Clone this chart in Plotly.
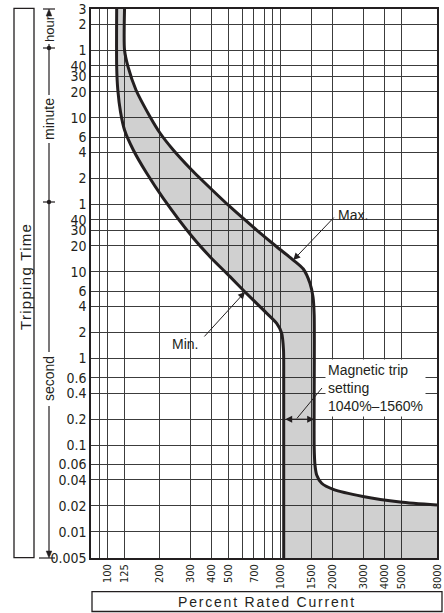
import math
import plotly.graph_objects as go

# ---------------- data ----------------
# Max. tripping curve: percent rated current vs tripping time in seconds
max_pct = [125, 125, 130.9, 145.6, 175.5, 200.4, 239.2, 305.6, 398.8, 508.8, 726, 947.3,
           1181, 1350, 1475, 1536, 1560, 1560, 1577, 1613, 1724, 2012, 2988, 4890, 8000]
max_sec = [10800, 3634, 2331, 1256, 617.8, 400.6, 255.0, 149.9, 89.3, 56.5, 30.4, 19.5,
           13.7, 10.8, 7.39, 5.13, 3.18, 0.0962, 0.0592, 0.0454, 0.0364, 0.0309, 0.0256,
           0.0221, 0.0204]

# Min. tripping curve
min_pct = [112.6, 112.6, 114.3, 118.5, 125.0, 140.5, 168.0, 209.4, 312.2, 389.9, 508.8,
           621.3, 792.6, 947.3, 1012, 1037, 1040, 1040]
min_sec = [10800, 2331, 1256, 699.8, 433.9, 255.0, 137.3, 70.7, 24.6, 14.98, 8.81,
           5.87, 3.64, 2.55, 1.96, 1.256, 0.566, 0.005]

trip_lo, trip_hi = 1040, 1560          # magnetic trip setting (%)
trip_marker_sec = 0.2                  # time where the setting arrow is drawn

x_tick_pct = [90, 100, 125, 200, 300, 400, 500, 600, 700, 800, 900, 1000,
              1500, 2000, 3000, 4000, 5000, 8000]
x_tick_text = ['', '100', '125', '200', '300', '400', '500', '', '700', '', '', '1000',
               '1500', '2000', '3000', '4000', '5000', '8000']

y_tick_sec = [0.005, 0.01, 0.02, 0.04, 0.06, 0.1, 0.2, 0.4, 0.6, 1, 2, 4, 6, 10, 20, 30, 40,
              60, 120, 240, 360, 600, 1200, 1800, 2400, 3600, 7200, 10800]
y_tick_text = ['0.005', '0.01', '0.02', '0.04', '0.06', '0.1', '0.2', '0.4', '0.6', '1', '2',
               '4', '6', '10', '20', '30', '40', '1', '2', '4', '6', '10', '20', '30', '40',
               '1', '2', '3']

X_RANGE = (80, 8000)
Y_RANGE = (0.005, 10800)

# ---------------- styling ----------------
INK = '#231f20'
GRID = '#3c3c3c'
FILL = 'rgba(35,31,32,0.21)'
SANS = 'Liberation Sans, Arial, Helvetica, sans-serif'
NARROW = 'Liberation Sans Narrow, Arial Narrow, DejaVu Sans Condensed, Liberation Sans, sans-serif'

W, H = 444, 613
ML, MR, MT, MB = 91, 7, 9, 55
PW = W - ML - MR
PH = H - MT - MB


def px(x):
    return (x - ML) / PW


def py(y):
    return (H - MB - y) / PH


# fill polygon: band between curves plus region under the max tail (extends past the axes, clipped)
YBIG, YSMALL, XBIG = Y_RANGE[1] * 3, Y_RANGE[0] / 5, X_RANGE[1] * 3
fill_x = [min_pct[0]] + min_pct + [min_pct[-1], XBIG, XBIG] + max_pct[::-1] + [max_pct[0]]
fill_y = [YBIG] + min_sec + [YSMALL, YSMALL, max_sec[-1]] + max_sec[::-1] + [YBIG]

SM = 0.7
fig = go.Figure()
fig.add_trace(go.Scatter(x=fill_x, y=fill_y, mode='lines', fill='toself', fillcolor=FILL,
                         line=dict(width=0, shape='spline', smoothing=SM),
                         hoverinfo='skip', showlegend=False))
fig.add_trace(go.Scatter(x=min_pct, y=min_sec, mode='lines', name='Min.',
                         line=dict(color=INK, width=3, shape='spline', smoothing=SM),
                         showlegend=False))
fig.add_trace(go.Scatter(x=max_pct, y=max_sec, mode='lines', name='Max.',
                         line=dict(color=INK, width=3, shape='spline', smoothing=SM),
                         showlegend=False))

shapes = []


def seg(x0, y0, x1, y1, w=1.2):
    shapes.append(dict(type='line', xref='paper', yref='paper', x0=px(x0), y0=py(y0),
                       x1=px(x1), y1=py(y1), line=dict(color=INK, width=w)))


def rect(x0, y0, x1, y1, w=1.3):
    shapes.append(dict(type='rect', xref='paper', yref='paper', x0=px(x0), y0=py(y1),
                       x1=px(x1), y1=py(y0), line=dict(color=INK, width=w)))


def tri(p1, p2, p3):
    path = 'M {} {} L {} {} L {} {} Z'.format(px(p1[0]), py(p1[1]), px(p2[0]), py(p2[1]),
                                              px(p3[0]), py(p3[1]))
    shapes.append(dict(type='path', xref='paper', yref='paper', path=path,
                       fillcolor=INK, line=dict(color=INK, width=0.5)))


def dot(cx, cy, r=2.2):
    shapes.append(dict(type='circle', xref='paper', yref='paper', x0=px(cx - r), x1=px(cx + r),
                       y0=py(cy + r), y1=py(cy - r), fillcolor=INK, line=dict(color=INK, width=0)))


# left box for "Tripping Time"
rect(14, 8.3, 34, 557.7)
# bottom box for "Percent Rated Current"
rect(92, 591.7, 442, 611.5)

# unit bracket
BX = 49
seg(43, 9, 55, 9)
tri((BX, 9), (BX - 2.8, 16), (BX + 2.8, 16))
seg(BX, 44, BX, 48)
seg(43, 48, 55, 48)
dot(BX, 48)
seg(BX, 48, BX, 95)
seg(BX, 143, BX, 202)
seg(43, 202, 55, 202)
dot(BX, 202)
seg(BX, 202, BX, 352)
seg(BX, 406, BX, 551)
tri((BX, 558), (BX - 2.8, 551), (BX + 2.8, 551))
seg(39, 558, 55, 558)

# leader for magnetic trip label
seg(297, 418.3, 322, 388, w=1)

ann = []


def label(text, x, y, size=14, angle=0, xanchor='center', family=SANS, **kw):
    d = dict(text=text, x=px(x), y=py(y), xref='paper', yref='paper', showarrow=False,
             textangle=angle, xanchor=xanchor, yanchor='middle',
             font=dict(family=family, size=size, color=INK))
    d.update(kw)
    ann.append(d)


label('<span style="letter-spacing:1.3px">Tripping Time</span>', 25, 277, size=15, angle=-90)
label('<span style="letter-spacing:1.8px">Percent Rated Current</span>', 267, 601.6, size=14)
label('hour', BX, 29, size=13, angle=-90)
label('minute', BX, 119, size=14, angle=-90)
label('second', BX, 379, size=14, angle=-90)
label('Max.', 336, 215, size=14, xanchor='left')
label('Min.', 170, 344, size=14, xanchor='left')
label('Magnetic trip<br>setting<br>{}%–{}%'.format(trip_lo, trip_hi), 325, 388, size=14,
      xanchor='left', align='left', bgcolor='white', borderpad=2)


def arrow(xv, yv, dx, dy, **kw):
    d = dict(x=math.log10(xv), y=math.log10(yv), xref='x', yref='y', ax=dx, ay=dy,
             text='', showarrow=True, arrowhead=2, arrowsize=1.4, arrowwidth=1,
             arrowcolor=INK)
    d.update(kw)
    ann.append(d)


arrow(max_pct[12], max_sec[12], 42, -44)
arrow(min_pct[11], min_sec[11], -42, 46)
arrow(trip_hi, trip_marker_sec, -30.5, 0, arrowside='end+start', startarrowhead=2,
      startarrowsize=1.4)

fig.update_layout(
    width=W, height=H, margin=dict(l=ML, r=MR, t=MT, b=MB, pad=0),
    paper_bgcolor='white', plot_bgcolor='white', template='none',
    shapes=shapes, annotations=ann, showlegend=False,
    xaxis=dict(type='log', range=[math.log10(X_RANGE[0]), math.log10(X_RANGE[1])],
               tickmode='array', tickvals=x_tick_pct, ticktext=x_tick_text, tickangle=-90,
               tickfont=dict(family=NARROW, size=11, color=INK), ticks='',
               showgrid=True, gridcolor=GRID, gridwidth=1, zeroline=False,
               showline=True, mirror=True, linecolor=INK, linewidth=1.5, automargin=False),
    yaxis=dict(type='log', range=[math.log10(Y_RANGE[0]), math.log10(Y_RANGE[1])],
               tickmode='array', tickvals=y_tick_sec, ticktext=y_tick_text,
               tickfont=dict(family=NARROW, size=14, color=INK), ticks='',
               showgrid=True, gridcolor=GRID, gridwidth=1, zeroline=False,
               showline=True, mirror=True, linecolor=INK, linewidth=1.5, automargin=False),
)

fig.write_html('out.html', config={'displayModeBar': False},
               post_script="document.body.style.margin='0px';")
